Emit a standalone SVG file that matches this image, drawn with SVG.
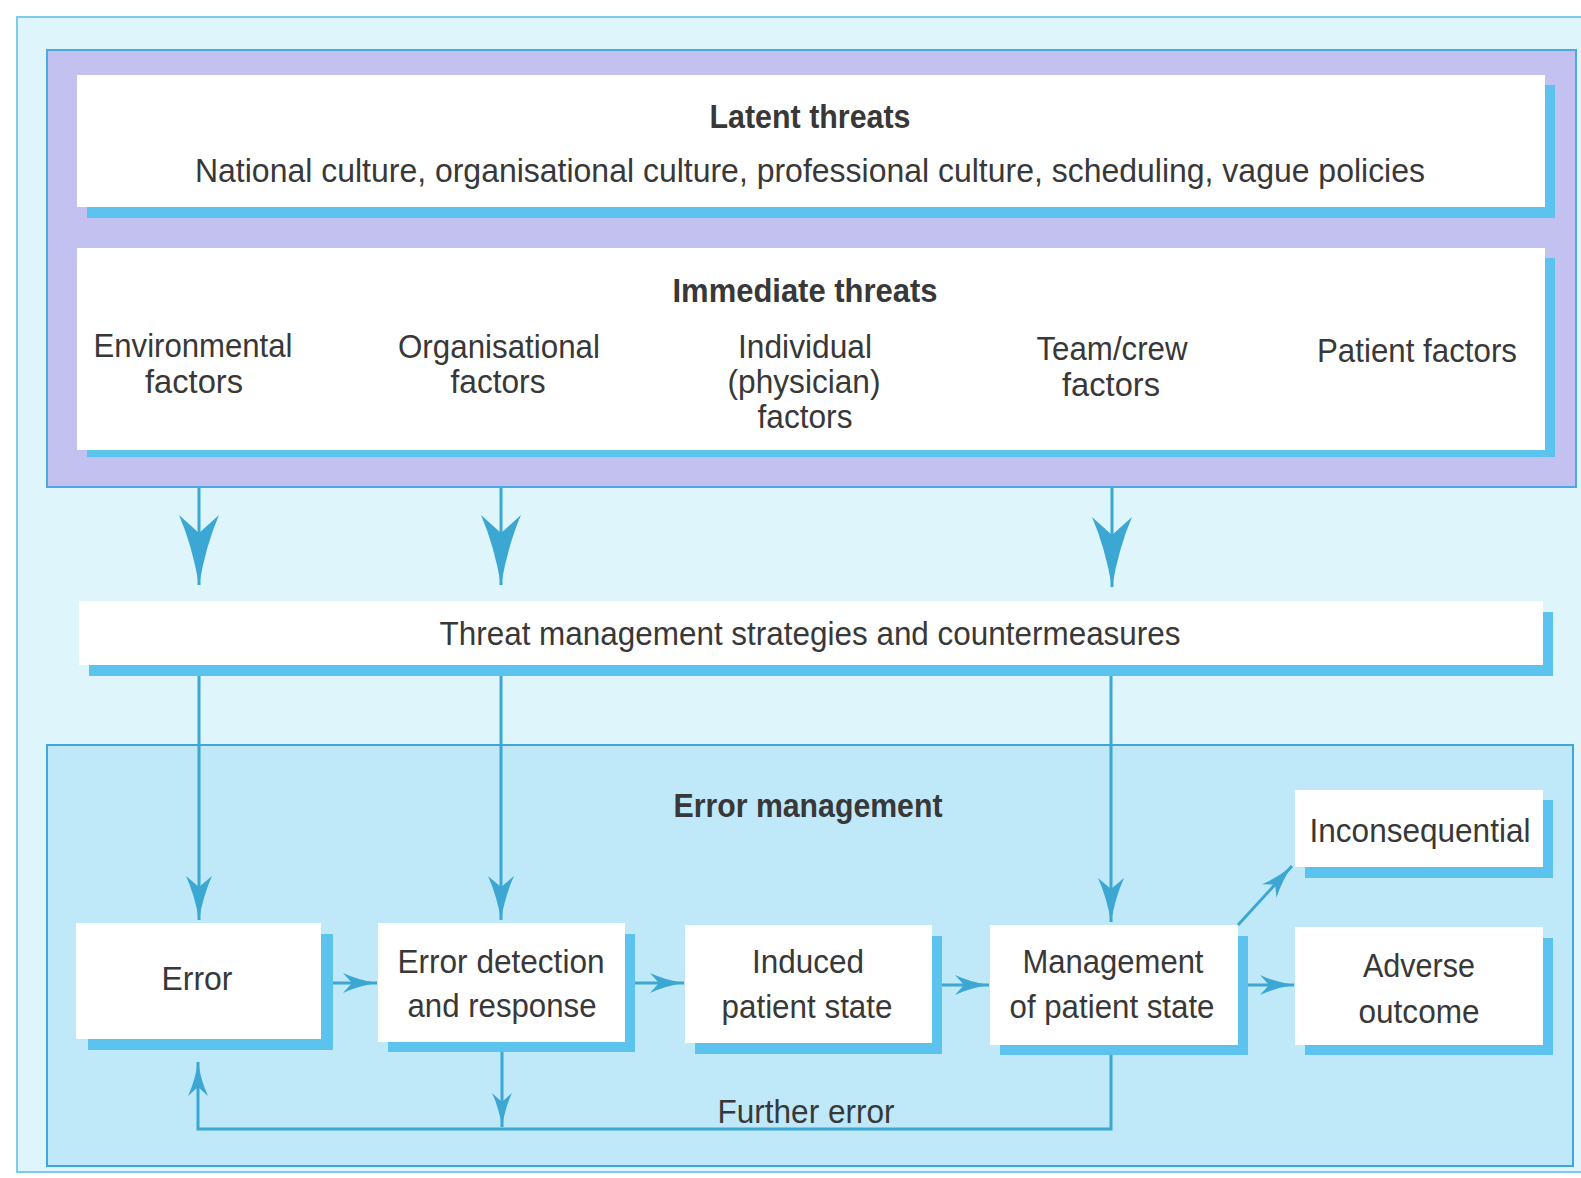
<svg xmlns="http://www.w3.org/2000/svg" width="1581" height="1178" viewBox="0 0 1581 1178">
<style>
  text { font-family: "Liberation Sans Narrow", "Liberation Sans", Arial, sans-serif; font-size: 34px; fill: #383838; text-anchor: middle; }
  .b { font-weight: bold; }
  .box { fill: #ffffff; }
  .sh { fill: #5cc2ee; }
  .ln { fill: none; stroke: #3ba7d2; stroke-width: 3; }
</style>
<defs>
  <marker id="big" viewBox="0 0 70 40" markerWidth="70" markerHeight="40" refX="70" refY="20" orient="auto" markerUnits="userSpaceOnUse">
    <path d="M70,20 Q30,13 0,0 L18,20 L0,40 Q30,27 70,20 Z" fill="#3ba7d2"/>
  </marker>
  <marker id="med" viewBox="0 0 44 26" markerWidth="44" markerHeight="26" refX="44" refY="13" orient="auto" markerUnits="userSpaceOnUse">
    <path d="M44,13 Q20,9 0,0 L11,13 L0,26 Q20,17 44,13 Z" fill="#3ba7d2"/>
  </marker>
  <marker id="sm" viewBox="0 0 34 20" markerWidth="34" markerHeight="20" refX="34" refY="10" orient="auto" markerUnits="userSpaceOnUse">
    <path d="M34,10 Q15,7 0,0 L9,10 L0,20 Q15,13 34,10 Z" fill="#3ba7d2"/>
  </marker>
</defs>

<rect x="0" y="0" width="1581" height="1178" fill="#ffffff"/>
<rect x="17" y="17" width="1570" height="1155" fill="#def6fb" stroke="#7ccaee" stroke-width="2"/>

<g id="threats-frame">
  <rect x="47" y="50" width="1529" height="437" fill="#c3c1ef" stroke="#4ea8e6" stroke-width="2"/>
</g>

<g id="latent-threats">
  <rect class="sh" x="87" y="85" width="1468" height="133"/>
  <rect class="box" x="77" y="75" width="1468" height="132"/>
  <text class="b" x="810" y="128" textLength="201" lengthAdjust="spacingAndGlyphs">Latent threats</text>
  <text x="810" y="182" textLength="1230" lengthAdjust="spacingAndGlyphs">National culture, organisational culture, professional culture, scheduling, vague policies</text>
</g>

<g id="immediate-threats">
  <rect class="sh" x="87" y="258" width="1468" height="199"/>
  <rect class="box" x="77" y="248" width="1468" height="202"/>
  <text class="b" x="805" y="302" textLength="265" lengthAdjust="spacingAndGlyphs">Immediate threats</text>
  <text x="193" y="357" textLength="199" lengthAdjust="spacingAndGlyphs">Environmental</text>
  <text x="194" y="393" textLength="98" lengthAdjust="spacingAndGlyphs">factors</text>
  <text x="499" y="358" textLength="202" lengthAdjust="spacingAndGlyphs">Organisational</text>
  <text x="498" y="393" textLength="95" lengthAdjust="spacingAndGlyphs">factors</text>
  <text x="805" y="358" textLength="134" lengthAdjust="spacingAndGlyphs">Individual</text>
  <text x="804" y="393" textLength="153" lengthAdjust="spacingAndGlyphs">(physician)</text>
  <text x="805" y="428" textLength="95" lengthAdjust="spacingAndGlyphs">factors</text>
  <text x="1112" y="360" textLength="151" lengthAdjust="spacingAndGlyphs">Team/crew</text>
  <text x="1111" y="396" textLength="98" lengthAdjust="spacingAndGlyphs">factors</text>
  <text x="1417" y="362" textLength="200" lengthAdjust="spacingAndGlyphs">Patient factors</text>
</g>

<g id="threat-management">
  <rect class="sh" x="89" y="612" width="1464" height="64"/>
  <rect class="box" x="79" y="601" width="1464" height="64"/>
  <text x="810" y="645" textLength="741" lengthAdjust="spacingAndGlyphs">Threat management strategies and countermeasures</text>
</g>

<g id="error-management">
  <rect x="47" y="745" width="1526" height="421" fill="#bfe8f9" stroke="#3fa6dc" stroke-width="2"/>
  <text class="b" x="808" y="817" textLength="269" lengthAdjust="spacingAndGlyphs">Error management</text>
</g>

<g id="error">
  <rect class="sh" x="88" y="934" width="245" height="116"/>
  <rect class="box" x="76" y="923" width="245" height="116"/>
  <text x="197" y="990" textLength="71" lengthAdjust="spacingAndGlyphs">Error</text>
</g>

<g id="error-detection">
  <rect class="sh" x="388" y="934" width="247" height="118"/>
  <rect class="box" x="378" y="923" width="247" height="119"/>
  <text x="501" y="973" textLength="207" lengthAdjust="spacingAndGlyphs">Error detection</text>
  <text x="502" y="1017" textLength="189" lengthAdjust="spacingAndGlyphs">and response</text>
</g>

<g id="induced-state">
  <rect class="sh" x="695" y="936" width="247" height="118"/>
  <rect class="box" x="685" y="925" width="247" height="118"/>
  <text x="808" y="973" textLength="112" lengthAdjust="spacingAndGlyphs">Induced</text>
  <text x="807" y="1018" textLength="171" lengthAdjust="spacingAndGlyphs">patient state</text>
</g>

<g id="management-state">
  <rect class="sh" x="1000" y="936" width="248" height="119"/>
  <rect class="box" x="990" y="925" width="248" height="120"/>
  <text x="1113" y="973" textLength="181" lengthAdjust="spacingAndGlyphs">Management</text>
  <text x="1112" y="1018" textLength="205" lengthAdjust="spacingAndGlyphs">of patient state</text>
</g>

<g id="inconsequential">
  <rect class="sh" x="1305" y="800" width="248" height="78"/>
  <rect class="box" x="1295" y="790" width="248" height="77"/>
  <text x="1420" y="842" textLength="221" lengthAdjust="spacingAndGlyphs">Inconsequential</text>
</g>

<g id="adverse-outcome">
  <rect class="sh" x="1305" y="938" width="248" height="117"/>
  <rect class="box" x="1295" y="927" width="248" height="118"/>
  <text x="1419" y="977" textLength="112" lengthAdjust="spacingAndGlyphs">Adverse</text>
  <text x="1419" y="1023" textLength="121" lengthAdjust="spacingAndGlyphs">outcome</text>
</g>

<g id="connectors">
  <path class="ln" d="M199,488 V585" marker-end="url(#big)"/>
  <path class="ln" d="M501,488 V585" marker-end="url(#big)"/>
  <path class="ln" d="M1112,488 V587" marker-end="url(#big)"/>
  <path class="ln" d="M199,676 V920" marker-end="url(#med)"/>
  <path class="ln" d="M501,676 V920" marker-end="url(#med)"/>
  <path class="ln" d="M1111,676 V922" marker-end="url(#med)"/>
  <path class="ln" d="M333,983 H377" marker-end="url(#sm)"/>
  <path class="ln" d="M635,983 H684" marker-end="url(#sm)"/>
  <path class="ln" d="M942,985 H989" marker-end="url(#sm)"/>
  <path class="ln" d="M1248,985 H1294" marker-end="url(#sm)"/>
  <path class="ln" d="M1238,925 L1292,866" marker-end="url(#sm)"/>
  <path class="ln" d="M502,1052 V1127" marker-end="url(#sm)"/>
  <path class="ln" d="M1111,1055 V1129 H198 V1062" marker-end="url(#sm)"/>
  <text x="806" y="1123" textLength="177" lengthAdjust="spacingAndGlyphs">Further error</text>
</g>
</svg>
